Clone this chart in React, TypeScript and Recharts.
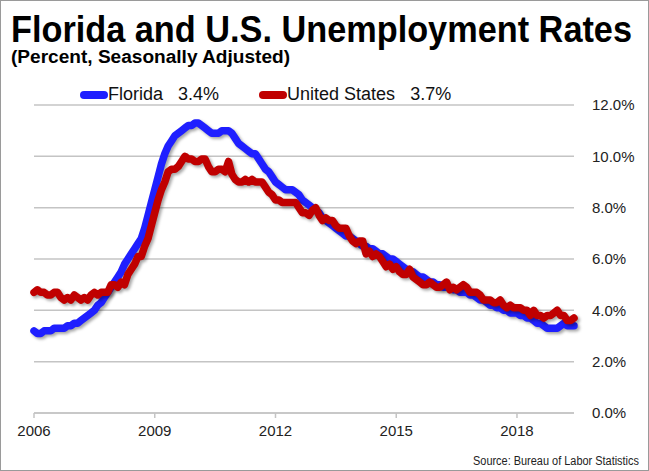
import { CartesianGrid, Legend, Line, LineChart, XAxis, YAxis } from "recharts";

const START_YEAR = 2006;

// monthly, Jan 2006 - Jun 2019
const floridaRates = [
  3.2, 3.1, 3.1, 3.2, 3.2, 3.2, 3.3, 3.3, 3.3, 3.3, 3.4, 3.4,
  3.5, 3.5, 3.6, 3.7, 3.8, 3.9, 4.0, 4.2, 4.3, 4.5, 4.7, 4.9,
  5.1, 5.3, 5.5, 5.8, 6.0, 6.2, 6.4, 6.6, 6.8, 7.2, 7.7, 8.2,
  8.7, 9.2, 9.7, 10.1, 10.4, 10.6, 10.8, 10.9, 11.0, 11.1, 11.2, 11.2,
  11.3, 11.3, 11.2, 11.1, 11.0, 10.9, 10.9, 10.9, 11.0, 11.0, 11.0, 10.9,
  10.7, 10.5, 10.4, 10.3, 10.2, 10.1, 10.1, 9.9, 9.7, 9.5, 9.4, 9.2,
  9.0, 8.9, 8.8, 8.7, 8.7, 8.7, 8.6, 8.5, 8.3, 8.2, 8.1, 8.0,
  7.9, 7.8, 7.6, 7.5, 7.4, 7.3, 7.2, 7.1, 7.0, 6.9, 6.9, 6.8,
  6.7, 6.6, 6.5, 6.5, 6.4, 6.4, 6.3, 6.2, 6.2, 6.1, 6.0, 6.0,
  5.9, 5.8, 5.7, 5.6, 5.5, 5.5, 5.4, 5.3, 5.3, 5.2, 5.1, 5.1,
  5.0, 5.0, 4.9, 4.9, 4.9, 4.8, 4.8, 4.7, 4.7, 4.7, 4.6, 4.6,
  4.5, 4.4, 4.4, 4.3, 4.2, 4.2, 4.1, 4.1, 4.0, 4.0, 3.9, 3.9,
  3.9, 3.8, 3.8, 3.7, 3.7, 3.6, 3.5, 3.5, 3.4, 3.3, 3.3, 3.3,
  3.3, 3.4, 3.5, 3.4, 3.4, 3.4,
];

const usRates = [
  4.7, 4.8, 4.7, 4.7, 4.6, 4.6, 4.7, 4.7, 4.5, 4.4, 4.5, 4.4,
  4.6, 4.5, 4.4, 4.5, 4.4, 4.6, 4.7, 4.6, 4.7, 4.7, 4.7, 5.0,
  5.0, 4.9, 5.1, 5.0, 5.4, 5.6, 5.8, 6.1, 6.1, 6.5, 6.8, 7.3,
  7.8, 8.3, 8.7, 9.0, 9.4, 9.5, 9.5, 9.6, 9.8, 10.0, 9.9, 9.9,
  9.8, 9.8, 9.9, 9.9, 9.6, 9.4, 9.4, 9.5, 9.5, 9.4, 9.8, 9.3,
  9.1, 9.0, 9.0, 9.1, 9.0, 9.1, 9.0, 9.0, 9.0, 8.8, 8.6, 8.5,
  8.3, 8.3, 8.2, 8.2, 8.2, 8.2, 8.2, 8.0, 7.8, 7.8, 7.7, 7.9,
  8.0, 7.7, 7.5, 7.6, 7.5, 7.5, 7.3, 7.2, 7.2, 7.2, 6.9, 6.7,
  6.6, 6.7, 6.7, 6.2, 6.3, 6.1, 6.2, 6.1, 5.9, 5.7, 5.8, 5.6,
  5.7, 5.5, 5.4, 5.4, 5.6, 5.3, 5.2, 5.1, 5.0, 5.0, 5.1, 5.0,
  4.9, 4.9, 5.0, 5.1, 4.8, 4.9, 4.8, 4.9, 5.0, 4.9, 4.7, 4.7,
  4.7, 4.6, 4.4, 4.4, 4.4, 4.3, 4.3, 4.4, 4.2, 4.1, 4.2, 4.1,
  4.1, 4.1, 4.0, 4.0, 3.8, 4.0, 3.8, 3.8, 3.7, 3.8, 3.8, 3.9,
  4.0, 3.8, 3.8, 3.6, 3.6, 3.7,
];

const yearTicks = [2006, 2009, 2012, 2015, 2018];
const rateTicks = [0, 2, 4, 6, 8, 10, 12];

const series = [
  { key: "florida", name: "Florida", latest: "3.4%", color: "#1f1fff" },
  { key: "us", name: "United States", latest: "3.7%", color: "#c00000" },
];

const data = floridaRates.map((v, i) => ({
  t: START_YEAR + i / 12,
  florida: v,
  us: usRates[i],
}));

const FONT = "'Liberation Sans', Arial, sans-serif";
const GRID = "#c4c4c4";

function LegendContent() {
  return (
    <div style={{ display: "flex", gap: 40, fontFamily: FONT, fontSize: 18, color: "#111" }}>
      {series.map((s) => (
        <div key={s.key} style={{ display: "flex", alignItems: "center" }}>
          <span
            style={{
              display: "inline-block",
              width: 28,
              height: 8,
              borderRadius: 4,
              background: s.color,
            }}
          />
          <span style={{ whiteSpace: "pre" }}>{`${s.name}   ${s.latest}`}</span>
        </div>
      ))}
    </div>
  );
}

export default function App() {
  return (
    <div
      style={{
        position: "relative",
        width: 649,
        height: 471,
        boxSizing: "border-box",
        border: "1px solid #9a9a9a",
        background: "#fff",
        overflow: "hidden",
      }}
    >
      <style>{`body{margin:0} .shadowed{filter:drop-shadow(2px 2px 1.5px rgba(0,0,0,0.35))}`}</style>
      <div style={{ position: "absolute", left: -1, top: -1 }}>
        <LineChart
          width={649}
          height={471}
          data={data}
          margin={{ top: 84, right: 15, left: 34, bottom: 28 }}
        >
          <CartesianGrid vertical={false} stroke={GRID} strokeWidth={1.5} />
          <XAxis
            dataKey="t"
            type="number"
            domain={[START_YEAR, START_YEAR + (floridaRates.length - 1) / 12]}
            ticks={yearTicks}
            tickFormatter={(v: number) => String(Math.round(v))}
            height={30}
            stroke={GRID}
            strokeWidth={1.5}
            tickSize={5}
            tickMargin={7}
            tick={{ fill: "#222", fontSize: 15, fontFamily: FONT }}
          />
          <YAxis
            orientation="right"
            domain={[0, 12]}
            ticks={rateTicks}
            tickFormatter={(v: number) => `${v.toFixed(1)}%`}
            width={60}
            axisLine={false}
            tickLine={false}
            tickMargin={12}
            tick={{ fill: "#222", fontSize: 15, fontFamily: FONT, textAnchor: "start" }}
          />
          <Legend
            verticalAlign="top"
            content={() => <LegendContent />}
            wrapperStyle={{ top: 84, left: 80, width: "auto" }}
          />
          {series.map((s) => (
            <Line
              key={s.key}
              dataKey={s.key}
              name={s.name}
              type="linear"
              stroke={s.color}
              strokeWidth={7.5}
              strokeLinejoin="round"
              strokeLinecap="round"
              dot={false}
              activeDot={false}
              className="shadowed"
              isAnimationActive={false}
            />
          ))}
        </LineChart>
      </div>
      <svg
        width={649}
        height={471}
        style={{ position: "absolute", left: -1, top: -1, pointerEvents: "none" }}
      >
        <text
          x={11}
          y={42}
          fontFamily={FONT}
          fontWeight="bold"
          fontSize={36}
          fill="#000"
          textLength={621}
          lengthAdjust="spacingAndGlyphs"
        >
          Florida and U.S. Unemployment Rates
        </text>
        <text
          x={11}
          y={63}
          fontFamily={FONT}
          fontWeight="bold"
          fontSize={18}
          fill="#000"
          textLength={279}
          lengthAdjust="spacingAndGlyphs"
        >
          (Percent, Seasonally Adjusted)
        </text>
        <text
          x={639}
          y={465}
          fontFamily={FONT}
          fontSize={12}
          fill="#222"
          textAnchor="end"
          textLength={166}
          lengthAdjust="spacingAndGlyphs"
        >
          Source: Bureau of Labor Statistics
        </text>
      </svg>
    </div>
  );
}
